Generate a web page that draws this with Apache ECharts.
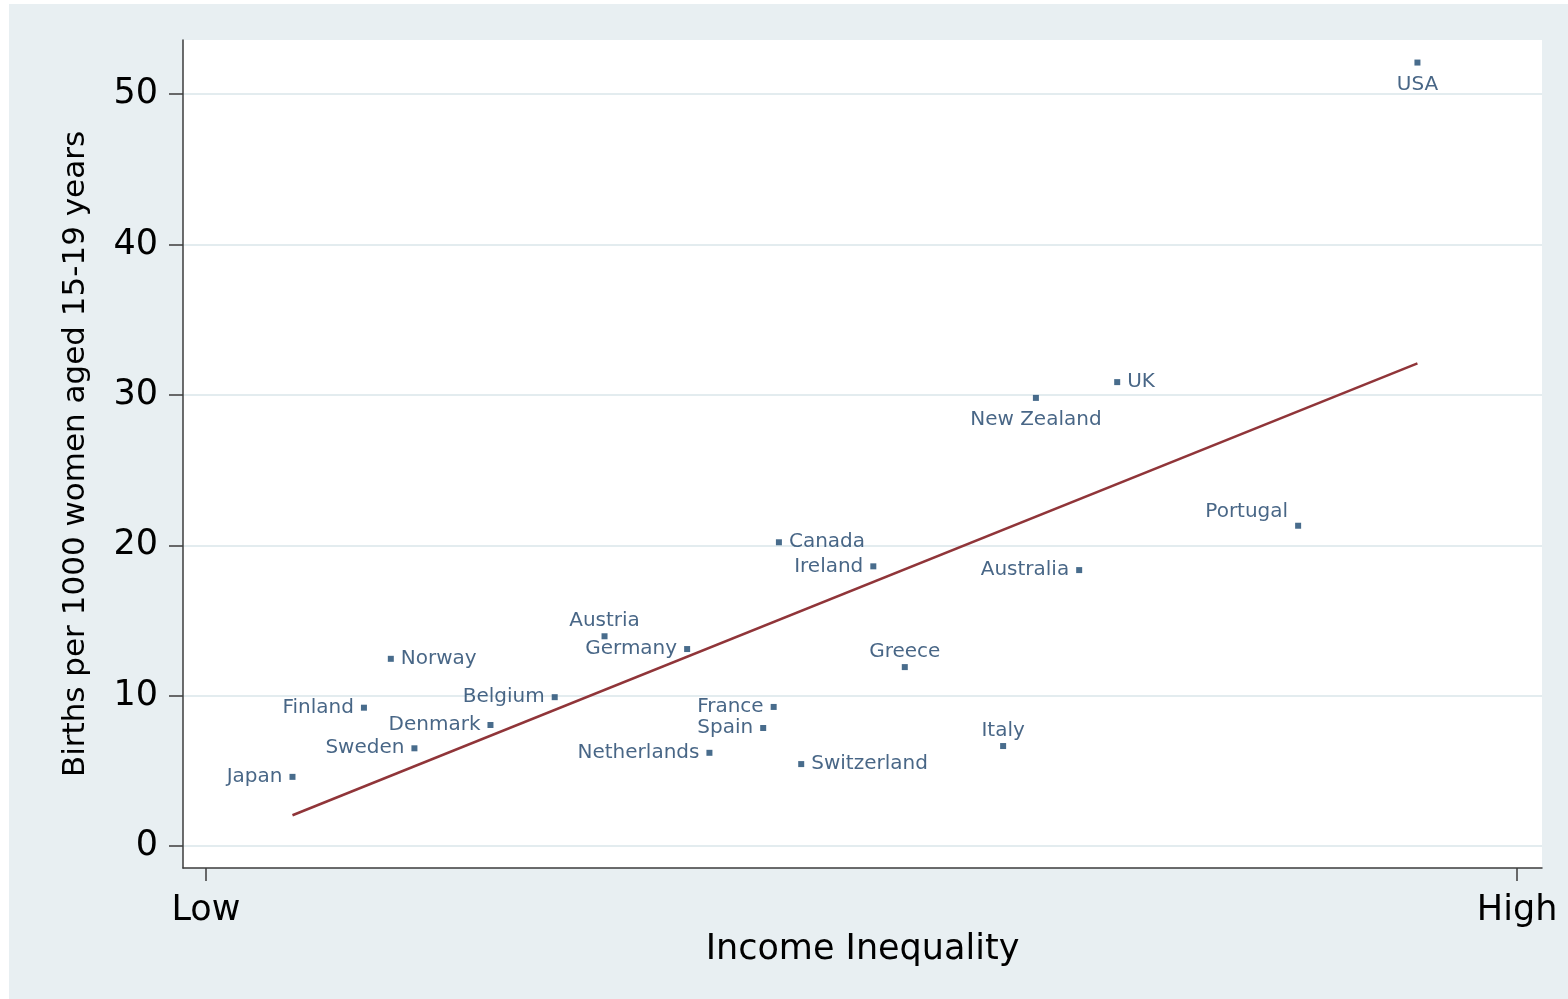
<!DOCTYPE html>
<html lang="en">
<head>
    <meta charset="UTF-8">
    <title>Teenage births and income inequality</title>
    <script src="https://cdn.jsdelivr.net/npm/echarts@6/dist/echarts.min.js"></script>
    <style>
        body{
            margin: 0;
            background: #ffffff;
        }
        #main{
            position: absolute;
            left: 9px;
            top: 4px;
            width: 1559px;
            height: 995px;
        }
    </style>
</head>
<body>
    <div id="main"></div>
</body>
<script>
    // data (x: 0 = Low, 100 = High)
    var countries = ['USA', 'UK', 'New Zealand', 'Portugal', 'Canada', 'Ireland', 'Australia',
        'Austria', 'Germany', 'Norway', 'Greece', 'Belgium', 'Finland', 'France', 'Denmark',
        'Spain', 'Sweden', 'Netherlands', 'Italy', 'Switzerland', 'Japan'];
    var inequality = [92.4, 69.5, 63.3, 83.3, 43.7, 50.9, 66.6,
        30.4, 36.7, 14.1, 53.3, 26.6, 12.05, 43.3, 21.7,
        42.5, 15.9, 38.4, 60.8, 45.4, 6.6];
    var births = [52.1, 30.85, 29.8, 21.3, 20.2, 18.6, 18.35,
        13.95, 13.1, 12.45, 11.9, 9.9, 9.2, 9.25, 8.05,
        7.85, 6.5, 6.2, 6.65, 5.45, 4.6];

    // fitted line end points
    var fitX = [6.6, 92.4];
    var fitY = [2.05, 32.1];

    var yTicks = [0, 10, 20, 30, 40, 50];
    var xTicks = [0, 100];
    var xTickLabels = ['Low', 'High'];

    // where each country label sits
    var labelPlace = {
        'USA': 'bottom', 'UK': 'right', 'New Zealand': 'bottom', 'Portugal': 'left',
        'Canada': 'right', 'Ireland': 'left', 'Australia': 'left', 'Austria': 'top',
        'Germany': 'left', 'Norway': 'right', 'Greece': 'top', 'Belgium': 'left',
        'Finland': 'left', 'France': 'left', 'Denmark': 'left', 'Spain': 'left',
        'Sweden': 'left', 'Netherlands': 'left', 'Italy': 'top', 'Switzerland': 'right',
        'Japan': 'left'
    };

    var myChart = echarts.init(document.getElementById('main'));

    var points = countries.map(function (name, i) {
        var lab = { position: labelPlace[name] };
        if (name == 'Portugal') {
            lab.offset = [0, -14];
        }
        if (lab.position == 'top') {
            lab.distance = 2;
        }
        if (lab.position == 'bottom') {
            lab.distance = 9;
        }
        return { name: name, value: [inequality[i], births[i]], label: lab };
    });

    var fit = fitX.map(function (x, i) {
        return [x, fitY[i]];
    });

    var option = {
        backgroundColor: '#e8eff2',
        animation: false,
        grid: {
            left: 174,
            top: 36,
            right: 26,
            bottom: 131,
            show: true,
            backgroundColor: '#ffffff',
            borderWidth: 0
        },
        xAxis: {
            type: 'value',
            min: -1.75,
            max: 101.9,
            name: 'Income Inequality',
            nameLocation: 'middle',
            nameGap: 56,
            nameTextStyle: {
                fontFamily: 'DejaVu Sans',
                fontSize: 35,
                color: '#000000'
            },
            axisLine: { show: true, onZero: false, lineStyle: { color: '#3c3c3c', width: 1.5 } },
            axisTick: {
                show: true,
                length: 13,
                customValues: xTicks,
                lineStyle: { color: '#3c3c3c', width: 1.5 }
            },
            axisLabel: {
                customValues: xTicks,
                margin: 25,
                fontFamily: 'DejaVu Sans',
                fontSize: 35,
                color: '#000000',
                formatter: function (v) {
                    var i = xTicks.indexOf(v);
                    return i >= 0 ? xTickLabels[i] : '';
                }
            },
            splitLine: { show: false }
        },
        yAxis: {
            type: 'value',
            min: -1.46,
            max: 53.6,
            name: 'Births per 1000 women aged 15-19 years',
            nameLocation: 'middle',
            nameGap: 92,
            nameTextStyle: {
                fontFamily: 'DejaVu Sans',
                fontSize: 31,
                color: '#000000'
            },
            axisLine: { show: true, onZero: false, lineStyle: { color: '#3c3c3c', width: 1.5 } },
            axisTick: {
                show: true,
                length: 14,
                customValues: yTicks,
                lineStyle: { color: '#3c3c3c', width: 1.5 }
            },
            axisLabel: {
                customValues: yTicks,
                margin: 25,
                fontFamily: 'DejaVu Sans',
                fontSize: 35,
                color: '#000000'
            },
            splitLine: {
                show: true,
                lineStyle: { color: '#e3ecef', width: 2 }
            }
        },
        series: [{
            type: 'line',
            data: fit,
            symbol: 'none',
            lineStyle: { color: '#903539', width: 2.5 },
            z: 2
        }, {
            type: 'scatter',
            data: points,
            symbol: 'rect',
            symbolSize: 6,
            itemStyle: { color: '#1a476f' },
            label: {
                show: true,
                formatter: '{b}',
                distance: 7,
                fontFamily: 'DejaVu Sans',
                fontSize: 20,
                color: '#1a4068'
            },
            z: 3
        }]
    };

    myChart.setOption(option);
</script>
</html>
